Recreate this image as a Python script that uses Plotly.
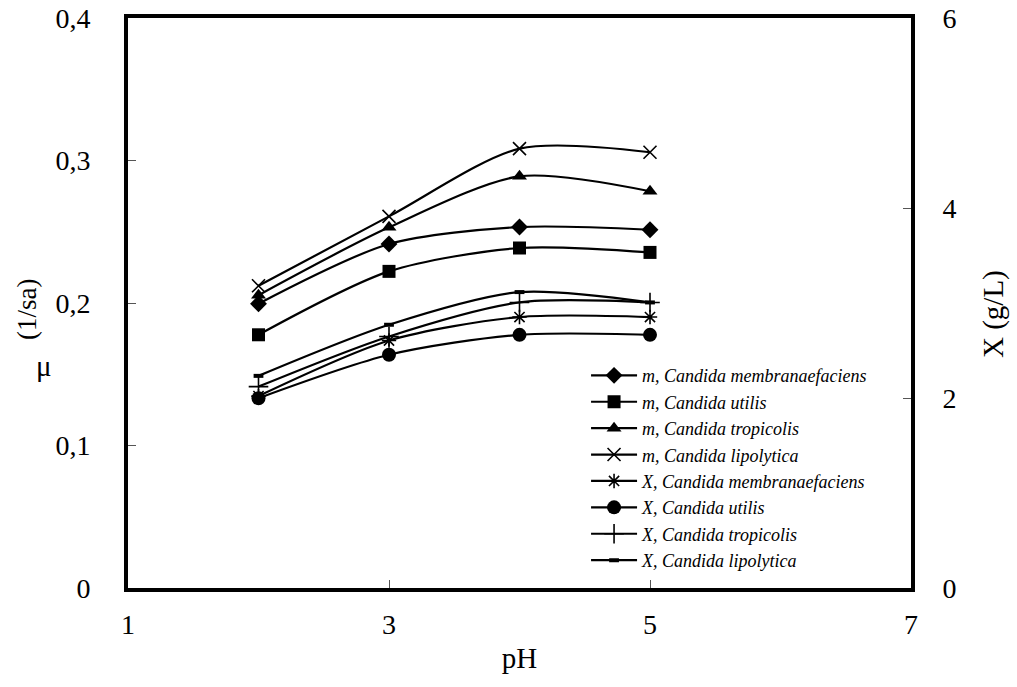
import plotly.graph_objects as go

ph = [2, 3, 4, 5]

mu_membranaefaciens = [0.1995, 0.2414, 0.2533, 0.2514]
mu_utilis = [0.1777, 0.2222, 0.2386, 0.2355]
mu_tropicolis = [0.2055, 0.2531, 0.2889, 0.2784]
mu_lipolytica = [0.2121, 0.2608, 0.3083, 0.3058]

x_membranaefaciens = [2.02, 2.605, 2.852, 2.852]
x_utilis = [1.998, 2.455, 2.665, 2.665]
x_tropicolis = [2.12, 2.648, 3.006, 3.006]
x_lipolytica = [2.233, 2.771, 3.115, 3.006]

names = [
    "m, Candida membranaefaciens",
    "m, Candida utilis",
    "m, Candida tropicolis",
    "m, Candida lipolytica",
    "X, Candida membranaefaciens",
    "X, Candida utilis",
    "X, Candida tropicolis",
    "X, Candida lipolytica",
]

FONT = "Liberation Serif, Times New Roman, serif"

fig = go.Figure()

mu_series = [mu_membranaefaciens, mu_utilis, mu_tropicolis, mu_lipolytica]
mu_markers = [
    dict(symbol="diamond", size=13),
    dict(symbol="square", size=13),
    dict(symbol="triangle-up", size=13),
    dict(symbol="x-thin-open", size=13, line=dict(width=1.6, color="black")),
]
for vals, mk, nm in zip(mu_series, mu_markers, names[:4]):
    fig.add_trace(go.Scatter(
        x=ph, y=vals, name=nm, mode="lines+markers",
        line=dict(color="black", width=2.2, shape="spline", smoothing=0.8),
        marker=dict(color="black", **mk), yaxis="y"))

x_series = [x_membranaefaciens, x_utilis, x_tropicolis, x_lipolytica]
x_markers = [
    dict(symbol="asterisk-open", size=12, line=dict(width=1.6, color="black")),
    dict(symbol="circle", size=14),
    dict(symbol="cross-thin-open", size=14, line=dict(width=1.6, color="black")),
    dict(symbol="line-ew-open", size=7, line=dict(width=4, color="black")),
]
for vals, mk, nm in zip(x_series, x_markers, names[4:]):
    fig.add_trace(go.Scatter(
        x=ph, y=vals, name=nm, mode="lines+markers",
        line=dict(color="black", width=2.2, shape="spline", smoothing=0.8),
        marker=dict(color="black", **mk), yaxis="y2"))

tickfont = dict(family=FONT, size=28, color="black")
titlefont = dict(family=FONT, size=29, color="black")

fig.update_layout(
    width=1017, height=687,
    margin=dict(l=128, r=106, t=18, b=99, autoexpand=False),
    paper_bgcolor="white", plot_bgcolor="white",
    separators=", ",
    showlegend=True,
    legend=dict(
        x=0.585, y=0.405, xanchor="left", yanchor="top",
        bgcolor="rgba(0,0,0,0)", borderwidth=0,
        font=dict(family=FONT, size=18, color="black", style="italic"),
        tracegroupgap=0, itemwidth=46,
    ),
    xaxis=dict(
        range=[1, 7], tickvals=[1, 3, 5, 7], showgrid=False, zeroline=False,
        showline=True, linewidth=4, linecolor="black", mirror=True,
        ticks="inside", ticklen=8, tickwidth=1, tickcolor="#555",
        tickfont=tickfont, ticklabelstandoff=8,
        title=dict(text="pH", font=titlefont, standoff=10),
    ),
    yaxis=dict(
        range=[0, 0.4], tickvals=[0, 0.1, 0.2, 0.3, 0.4], showgrid=False, zeroline=False,
        showline=True, linewidth=4, linecolor="black",
        ticks="inside", ticklen=8, tickwidth=1, tickcolor="#555",
        tickfont=tickfont, ticklabelstandoff=28,
    ),
    yaxis2=dict(
        range=[0, 6], tickvals=[0, 2, 4, 6], overlaying="y", side="right",
        showgrid=False, zeroline=False,
        showline=True, linewidth=4, linecolor="black",
        ticks="inside", ticklen=8, tickwidth=1, tickcolor="#555",
        tickfont=tickfont, ticklabelstandoff=22,
    ),
    annotations=[
        dict(text="(1/sa)", x=27, y=310, xref="paper", yref="paper", showarrow=False,
             textangle=-90, font=dict(family=FONT, size=27, color="black"),
             xanchor="center", yanchor="middle"),
        dict(text="μ", x=44, y=366, xref="paper", yref="paper", showarrow=False,
             font=dict(family=FONT, size=29, color="black"),
             xanchor="center", yanchor="middle"),
        dict(text="X (g/L)", x=994, y=314, xref="paper", yref="paper", showarrow=False,
             textangle=-90, font=titlefont,
             xanchor="center", yanchor="middle"),
    ],
)

# convert annotation pixel positions to paper coordinates
pw = 1017 - 128 - 106
ph_ = 687 - 18 - 99
for ann in fig.layout.annotations:
    px, py = ann.x, ann.y
    ann.x = (px - 128) / pw
    ann.y = 1 - (py - 18) / ph_

fig.write_html("out.html")
